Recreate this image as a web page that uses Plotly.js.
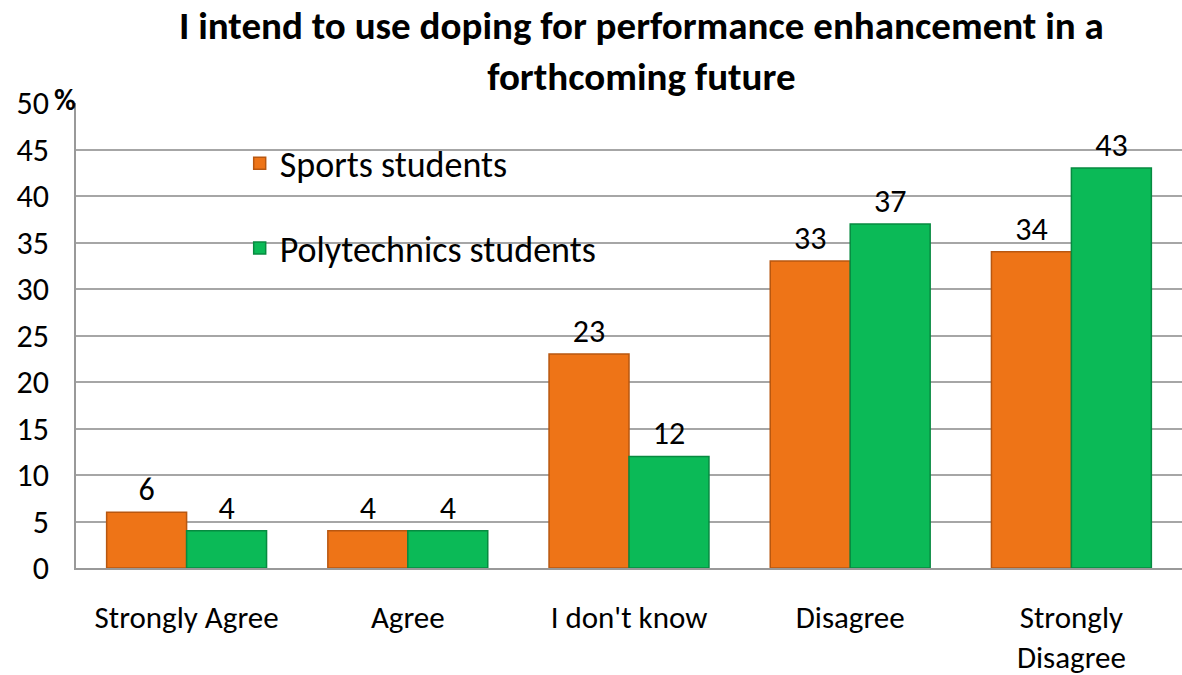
<!DOCTYPE html>
<html><head><meta charset="utf-8">
<script src="https://cdn.plot.ly/plotly-3.0.1.min.js"></script>
<style>body{margin:0;background:#fff}#chart{width:1182px;height:675px}</style>
</head><body><div id="chart"></div>
<script>
const categories = ["Strongly Agree", "Agree", "I don't know", "Disagree", "Strongly<br>Disagree"];
const sportsStudents = [6, 4, 23, 33, 34];
const polytechnicsStudents = [4, 4, 12, 37, 43];
const seriesNames = ["Sports students", "Polytechnics students"];
const yTicks = [0, 5, 10, 15, 20, 25, 30, 35, 40, 45, 50];
const titleText = "<b>I intend to use doping for performance enhancement in a<br>forthcoming future</b>";

const font = "Carlito, Lato, 'Open Sans', sans-serif";
const traces = [
  {type: "bar", name: seriesNames[0], x: categories, y: sportsStudents, legendgroup: "a",
   text: sportsStudents.map(String), textposition: "outside", cliponaxis: false,
   textfont: {size: 32, color: "#000", family: font},
   marker: {color: "#EE7417", line: {color: "#B85710", width: 1.5}}},
  {type: "bar", name: seriesNames[1], x: categories, y: polytechnicsStudents, legendgroup: "b",
   text: polytechnicsStudents.map(String), textposition: "outside", cliponaxis: false,
   textfont: {size: 32, color: "#000", family: font},
   marker: {color: "#0BBA57", line: {color: "#078A40", width: 1.5}}}
];
const layout = {
  width: 1182, height: 675,
  margin: {l: 76, r: 0, t: 103, b: 107},
  paper_bgcolor: "#fff", plot_bgcolor: "#fff",
  font: {family: font, size: 32, color: "#000"},
  barmode: "group", bargap: 0.277, bargroupgap: 0,
  showlegend: true,
  legend: {x: 0.148, y: 0.935, xanchor: "left", yanchor: "top", bgcolor: "rgba(0,0,0,0)",
           font: {size: 36, family: font}, tracegroupgap: 35, itemwidth: 30},
  xaxis: {showline: true, linecolor: "#999", linewidth: 1.5, ticks: "", ticklabelstandoff: 21,
          tickfont: {size: 31}, showgrid: false},
  yaxis: {range: [0, 50], tickvals: yTicks, ticks: "", showline: true, linecolor: "#999", linewidth: 1.5,
          gridcolor: "#A6A6A6", gridwidth: 1.5, tickfont: {size: 32}, ticklabelstandoff: 19, zeroline: false},
  annotations: [
    {text: titleText, xref: "paper", yref: "paper", x: 0.511, y: 1.1108, xanchor: "center", yanchor: "middle",
     showarrow: false, font: {size: 39, family: font}},
    {text: "<b>%</b>", xref: "paper", yref: "paper", x: 0.002, y: 1.008, xanchor: "right", yanchor: "middle",
     showarrow: false, font: {size: 30, family: font}}]
};
Plotly.newPlot("chart", traces, layout, {displayModeBar: false});
</script></body></html>
